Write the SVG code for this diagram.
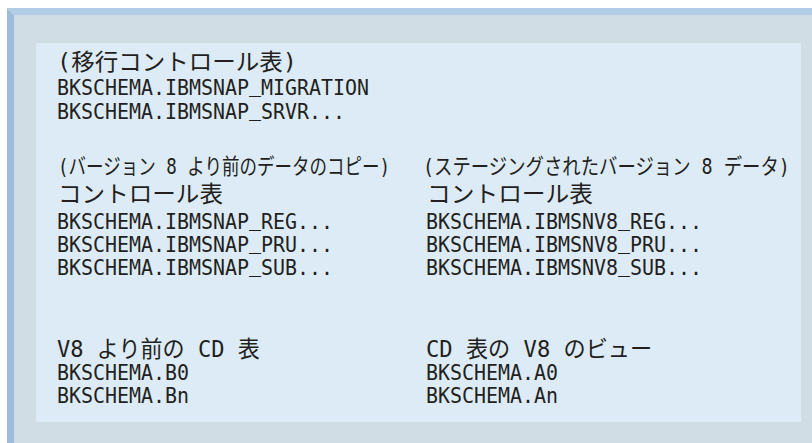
<svg xmlns="http://www.w3.org/2000/svg" width="812" height="443" viewBox="0 0 812 443">
<style>
  text { font-family: "DejaVu Sans Mono", "Noto Sans CJK JP", monospace; fill: #231f20; }
  .big { font-size: 23px; }
  .mid { font-size: 22px; }
  .code { font-size: 22px; }
</style>
<rect x="0" y="0" width="812" height="443" fill="#ffffff"/>
<rect x="14" y="15" width="798" height="428" fill="#d1dde5"/>
<polygon points="7,8 812,8 812,15 14,15" fill="#b4cde6"/>
<polygon points="7,8 14,15 14,443 7,443" fill="#9dbbdb"/>
<rect x="36" y="43" width="765" height="379" fill="#ddebf6"/>
<g id="migration">
  <text class="big" x="57" y="70" textLength="240" lengthAdjust="spacingAndGlyphs">(移行コントロール表)</text>
  <text class="code" x="57" y="95" textLength="312" lengthAdjust="spacingAndGlyphs">BKSCHEMA.IBMSNAP<tspan dy="-3">_</tspan><tspan dy="3">MIGRATION</tspan></text>
  <text class="code" x="57" y="119" textLength="288" lengthAdjust="spacingAndGlyphs">BKSCHEMA.IBMSNAP<tspan dy="-3">_</tspan><tspan dy="3">SRVR...</tspan></text>
</g>
<g id="pre-v8-control">
  <text class="mid" transform="translate(58,174) scale(0.7186,1)" textLength="462" lengthAdjust="spacingAndGlyphs">(バージョン 8 より前のデータのコピー)</text>
  <text class="big" x="58" y="202" textLength="165" lengthAdjust="spacingAndGlyphs">コントロール表</text>
  <text class="code" x="57" y="229" textLength="276" lengthAdjust="spacingAndGlyphs">BKSCHEMA.IBMSNAP<tspan dy="-3">_</tspan><tspan dy="3">REG...</tspan></text>
  <text class="code" x="57" y="252" textLength="276" lengthAdjust="spacingAndGlyphs">BKSCHEMA.IBMSNAP<tspan dy="-3">_</tspan><tspan dy="3">PRU...</tspan></text>
  <text class="code" x="57" y="275" textLength="276" lengthAdjust="spacingAndGlyphs">BKSCHEMA.IBMSNAP<tspan dy="-3">_</tspan><tspan dy="3">SUB...</tspan></text>
</g>
<g id="v8-control">
  <text class="mid" transform="translate(423,174) scale(0.758,1)" textLength="484" lengthAdjust="spacingAndGlyphs">(ステージングされたバージョン 8 データ)</text>
  <text class="big" x="427" y="202" textLength="166" lengthAdjust="spacingAndGlyphs">コントロール表</text>
  <text class="code" x="426" y="229" textLength="276" lengthAdjust="spacingAndGlyphs">BKSCHEMA.IBMSNV8<tspan dy="-3">_</tspan><tspan dy="3">REG...</tspan></text>
  <text class="code" x="426" y="252" textLength="276" lengthAdjust="spacingAndGlyphs">BKSCHEMA.IBMSNV8<tspan dy="-3">_</tspan><tspan dy="3">PRU...</tspan></text>
  <text class="code" x="426" y="275" textLength="276" lengthAdjust="spacingAndGlyphs">BKSCHEMA.IBMSNV8<tspan dy="-3">_</tspan><tspan dy="3">SUB...</tspan></text>
</g>
<g id="pre-v8-cd">
  <text class="big" transform="translate(57,357) scale(0.957,1)" textLength="212" lengthAdjust="spacingAndGlyphs">V8 より前の CD 表</text>
  <text class="code" x="57" y="380" textLength="132" lengthAdjust="spacingAndGlyphs">BKSCHEMA.B0</text>
  <text class="code" x="57" y="403" textLength="132" lengthAdjust="spacingAndGlyphs">BKSCHEMA.Bn</text>
</g>
<g id="v8-cd-view">
  <text class="big" transform="translate(426,357) scale(0.962,1)" textLength="235" lengthAdjust="spacingAndGlyphs">CD 表の V8 のビュー</text>
  <text class="code" x="426" y="380" textLength="132" lengthAdjust="spacingAndGlyphs">BKSCHEMA.A0</text>
  <text class="code" x="426" y="403" textLength="132" lengthAdjust="spacingAndGlyphs">BKSCHEMA.An</text>
</g>
</svg>
